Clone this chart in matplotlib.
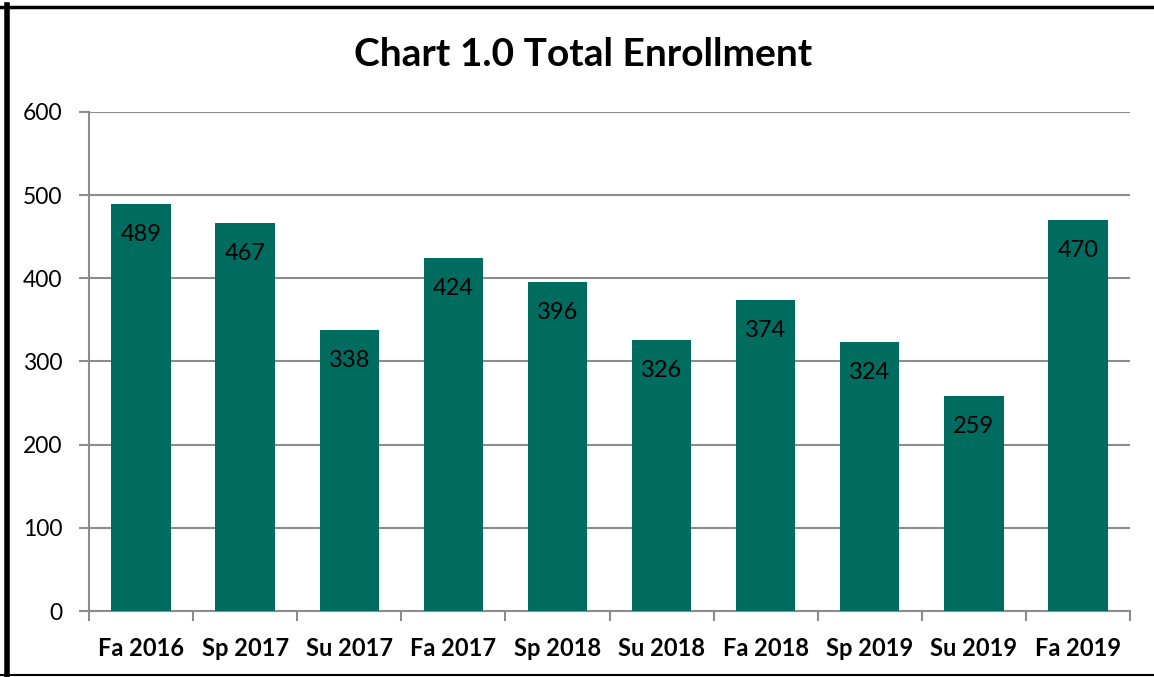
import numpy as np
import matplotlib
matplotlib.use("Agg")
import matplotlib.pyplot as plt
from matplotlib.lines import Line2D

plt.rcParams['font.family'] = ['Lato', 'DejaVu Sans']

terms = ["Fa 2016", "Sp 2017", "Su 2017", "Fa 2017", "Sp 2018",
         "Su 2018", "Fa 2018", "Sp 2019", "Su 2019", "Fa 2019"]
enrollment = [489, 467, 338, 424, 396, 326, 374, 324, 259, 470]
y_ticks = [0, 100, 200, 300, 400, 500, 600]

bar_color = "#006B5F"
grid_color = "#8C8C8C"

W, H = 1154, 677
fig = plt.figure(figsize=(W / 100, H / 100), dpi=100)
ax = fig.add_axes([89 / W, 1 - 611 / H, (1130 - 89) / W, (611 - 112) / H])

x = np.arange(len(terms))
bars = ax.bar(x, enrollment, width=0.57, color=bar_color, zorder=3)

# value labels inside the top of each bar
for rect, v in zip(bars, enrollment):
    ax.annotate(str(v), (rect.get_x() + rect.get_width() / 2, v),
                xytext=(0, -22), textcoords="offset points",
                ha="center", va="center", fontsize=17, color="black", zorder=4)

ax.set_xlim(-0.5, len(terms) - 0.5)
ax.set_ylim(0, 600)
ax.set_yticks(y_ticks)
ax.set_yticklabels([str(t) for t in y_ticks], fontsize=16.5)
ax.yaxis.grid(True, color=grid_color, linewidth=1.5, zorder=0)
ax.tick_params(axis="y", length=7, width=1.5, color=grid_color, pad=12)

ax.set_xticks(x)
ax.set_xticklabels(terms, fontsize=17, fontweight="bold")
ax.set_xticks(np.arange(len(terms) + 1) - 0.5, minor=True)
ax.tick_params(axis="x", which="major", length=0, pad=19)
ax.tick_params(axis="x", which="minor", length=7, width=1.5, color=grid_color)

for s in ["top", "right"]:
    ax.spines[s].set_visible(False)
for s in ["left", "bottom"]:
    ax.spines[s].set_color(grid_color)
    ax.spines[s].set_linewidth(1.5)

fig.text(583 / W, 1 - 55 / H, "Chart 1.0 Total Enrollment",
         ha="center", va="center", fontsize=28, fontweight="bold")

# outer frame
fig.add_artist(Line2D([6.5 / W, 6.5 / W], [0, 1 - 5 / H], transform=fig.transFigure,
                      color="black", linewidth=4))
fig.add_artist(Line2D([0, 1], [1 - 7 / H, 1 - 7 / H], transform=fig.transFigure,
                      color="black", linewidth=2.5))
fig.add_artist(Line2D([0, 1], [1 - 675 / H, 1 - 675 / H], transform=fig.transFigure,
                      color="black", linewidth=1.5))

fig.savefig("out.png", dpi=100)
